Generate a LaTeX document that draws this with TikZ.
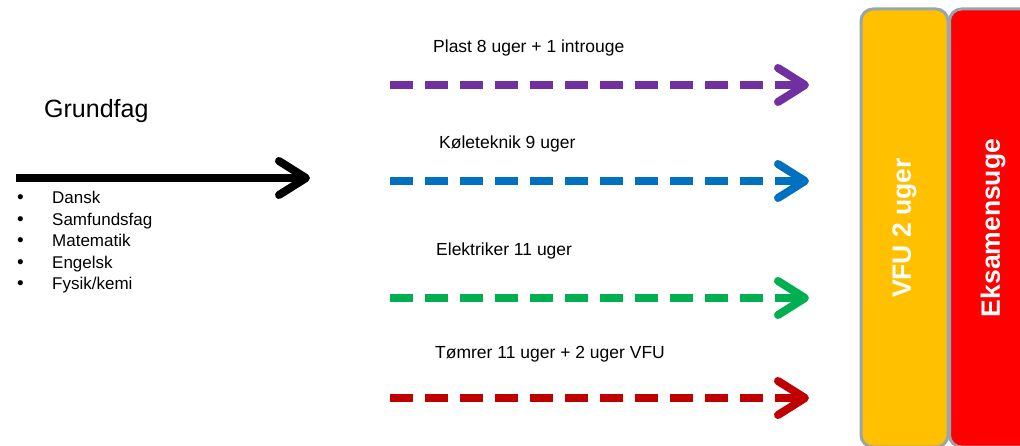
\documentclass[tikz,border=0pt]{standalone}
\usepackage{fontspec}
\setmainfont{Liberation Sans}
\usepackage{tikz}
\usetikzlibrary{arrows.meta}

\definecolor{plast}{RGB}{112,48,160}
\definecolor{kole}{RGB}{0,112,192}
\definecolor{elek}{RGB}{0,176,80}
\definecolor{tomrer}{RGB}{192,0,0}
\definecolor{vfu}{RGB}{255,192,0}
\definecolor{eksamen}{RGB}{255,0,0}
\definecolor{kant}{RGB}{150,166,172}

\begin{document}
\begin{tikzpicture}[x=1pt, y=-1pt,
    label/.style={anchor=base west, inner sep=0pt, font=\fontsize{17.5}{20}\selectfont},
    punkt/.style={anchor=base west, inner sep=0pt, font=\fontsize{17}{20}\selectfont},
    pil/.style={line width=8pt,
      -{Straight Barb[length=27pt, width=34pt, line width=8pt, round]}},
    ruta/.style={pil, dash pattern=on 23pt off 12pt},
    blok/.style={draw=kant, line width=3pt, rounded corners=12pt, rotate=90,
      minimum width=438pt, minimum height=87pt, text=white,
      font=\bfseries\fontsize{26.5}{30}\selectfont}]
    \clip (0,0) rectangle (1020,446);

    % Nodos
    \node[anchor=base west, inner sep=0pt, font=\fontsize{25}{30}\selectfont] (grundfag) at (44,118) {Grundfag};
    \coordinate (g-start) at (16,178);
    \coordinate (g-slut) at (310,178);
    \node[punkt] (dansk) at (52,204) {Dansk};
    \node[punkt] (samf) at (52,225.5) {Samfundsfag};
    \node[punkt] (mat) at (52,247) {Matematik};
    \node[punkt] (eng) at (52,268.5) {Engelsk};
    \node[punkt] (fys) at (52,290) {Fysik/kemi};
    \foreach \n in {dansk,samf,mat,eng,fys}
      \node[punkt, font=\fontsize{19}{20}\selectfont] at ([xshift=-35pt]\n.base west) {•};

    \node[label] (l-plast) at (433,53) {Plast 8 uger + 1 introuge};
    \node[label] (l-kole) at (439,149) {Køleteknik 9 uger};
    \node[label] (l-elek) at (436,256) {Elektriker 11 uger};
    \node[label] (l-tomrer) at (435,359) {Tømrer 11 uger + 2 uger VFU};

    \coordinate (plast-a) at (390,85);
    \coordinate (plast-b) at (809,85);
    \coordinate (kole-a) at (390,181);
    \coordinate (kole-b) at (809,181);
    \coordinate (elek-a) at (390,298);
    \coordinate (elek-b) at (809,298);
    \coordinate (tomrer-a) at (390,398);
    \coordinate (tomrer-b) at (809,398);

    \node[blok, fill=vfu] (vfu) at (904.5,228) {VFU 2 uger};
    \node[blok, fill=eksamen] (eksamen) at (993,228) {Eksamensuge};

    % Flechas
    \draw[pil] (g-start) -- (g-slut);
    \draw[ruta, plast] (plast-a) -- (plast-b);
    \draw[ruta, kole] (kole-a) -- (kole-b);
    \draw[ruta, elek] (elek-a) -- (elek-b);
    \draw[ruta, tomrer] (tomrer-a) -- (tomrer-b);
\end{tikzpicture}
\end{document}
